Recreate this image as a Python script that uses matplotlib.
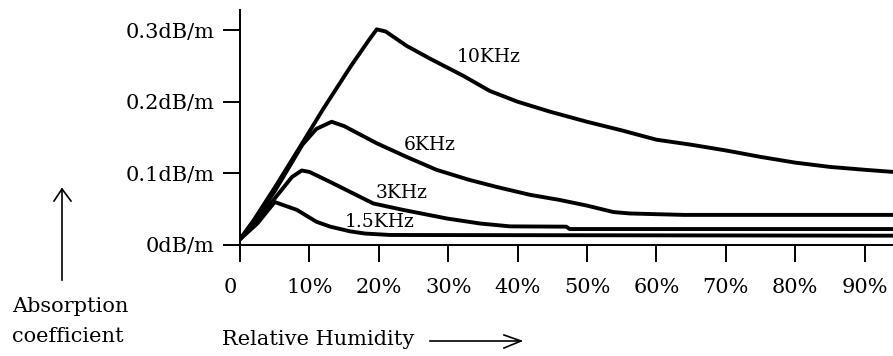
import matplotlib
matplotlib.use("Agg")
import matplotlib.pyplot as plt
from matplotlib.lines import Line2D
from matplotlib.transforms import ScaledTranslation

# ---- data (relative humidity %, absorption dB/m) ----
rh_10k = [0, 2, 5, 8.2, 12, 16, 18.5, 19.7, 21, 24, 27.4, 30, 32.2, 36, 40, 44.7, 50, 55, 60, 65, 70, 75, 80, 85, 90, 94.1]
abs_10k = [0.008, 0.035, 0.08, 0.13, 0.19, 0.25, 0.285, 0.301, 0.298, 0.278, 0.26, 0.247, 0.236, 0.215, 0.2, 0.186, 0.172, 0.16, 0.147, 0.14, 0.132, 0.123, 0.115, 0.109, 0.105, 0.102]

rh_6k = [0, 2, 5, 9, 11, 13.2, 15, 19.7, 24, 28.3, 33, 37, 41.8, 46, 50, 53.8, 56.2, 64, 94.1]
abs_6k = [0.008, 0.033, 0.075, 0.14, 0.162, 0.172, 0.166, 0.142, 0.123, 0.105, 0.091, 0.081, 0.07, 0.063, 0.055, 0.046, 0.044, 0.042, 0.042]

rh_3k = [0, 2, 5, 7.5, 8.9, 10, 13, 19.2, 23.5, 29.8, 34.6, 38.9, 47, 47.5, 94.1]
abs_3k = [0.008, 0.03, 0.065, 0.095, 0.104, 0.102, 0.088, 0.058, 0.049, 0.037, 0.03, 0.026, 0.0256, 0.0223, 0.0223]

rh_1k5 = [0, 2.5, 5, 8.2, 11, 13, 15.9, 18, 21.6, 94.1]
abs_1k5 = [0.008, 0.03, 0.06, 0.049, 0.0325, 0.0256, 0.019, 0.016, 0.014, 0.013]

curve_labels = ["10KHz", "6KHz", "3KHz", "1.5KHz"]
label_x = [35.8, 27.4, 23.3, 20.2]
label_y = [0.262, 0.1395, 0.073, 0.0325]

x_ticks = [0, 10, 20, 30, 40, 50, 60, 70, 80, 90]
x_ticklabels = ["0", "10%", "20%", "30%", "40%", "50%", "60%", "70%", "80%", "90%"]
y_ticks = [0, 0.1, 0.2, 0.3]
y_ticklabels = ["0dB/m", "0.1dB/m", "0.2dB/m", "0.3dB/m"]

plt.rcParams["font.family"] = ["DejaVu Serif"]

W, H = 893, 356
fig = plt.figure(figsize=(W / 100, H / 100), dpi=100)
fig.patch.set_facecolor("white")
ax = fig.add_axes([240 / W, (H - 245) / H, 653 / W, 235 / H])

for xs, ys in [(rh_10k, abs_10k), (rh_6k, abs_6k), (rh_3k, abs_3k), (rh_1k5, abs_1k5)]:
    ax.plot(xs, ys, color="black", lw=2.8, solid_joinstyle="round", solid_capstyle="butt")

for t, x, y in zip(curve_labels, label_x, label_y):
    ax.text(x, y, t, ha="center", va="center", fontsize=13.5, color="black")

ax.set_xlim(0, 94.1)
ax.set_ylim(0, 0.328)
for s in ["top", "right"]:
    ax.spines[s].set_visible(False)
for s in ["left", "bottom"]:
    ax.spines[s].set_linewidth(1.4)
ax.set_xticks(x_ticks)
ax.set_xticklabels(x_ticklabels, fontsize=15)
ax.set_yticks(y_ticks)
ax.set_yticklabels(y_ticklabels, fontsize=15)
ax.tick_params(axis="both", direction="out", length=12.5, width=1.4, color="black")
ax.tick_params(axis="x", pad=11.5)
ax.tick_params(axis="y", pad=6)

# the "0" label sits a little left of its tick in the reference
lab0 = ax.xaxis.get_major_ticks()[0].label1
lab0.set_transform(lab0.get_transform() + ScaledTranslation(-0.10, 0, fig.dpi_scale_trans))

# Axis captions
fig.text(12 / W, (H - 312) / H, "Absorption", fontsize=15, ha="left", va="baseline")
fig.text(12 / W, (H - 342) / H, "coefficient", fontsize=15, ha="left", va="baseline")
fig.text(222 / W, (H - 345) / H, "Relative Humidity", fontsize=15, ha="left", va="baseline")


def pline(pts, lw=1.2):
    xs = [p[0] / W for p in pts]
    ys = [(H - p[1]) / H for p in pts]
    fig.add_artist(Line2D(xs, ys, transform=fig.transFigure, color="black", lw=lw))


# up arrow
pline([(62, 280), (62, 189)])
pline([(54, 201), (62, 189), (71, 201)])
# right arrow
pline([(430, 341), (521, 341)])
pline([(504, 335), (521, 341), (504, 348)])

fig.savefig("out.png", dpi=100, facecolor="white")
